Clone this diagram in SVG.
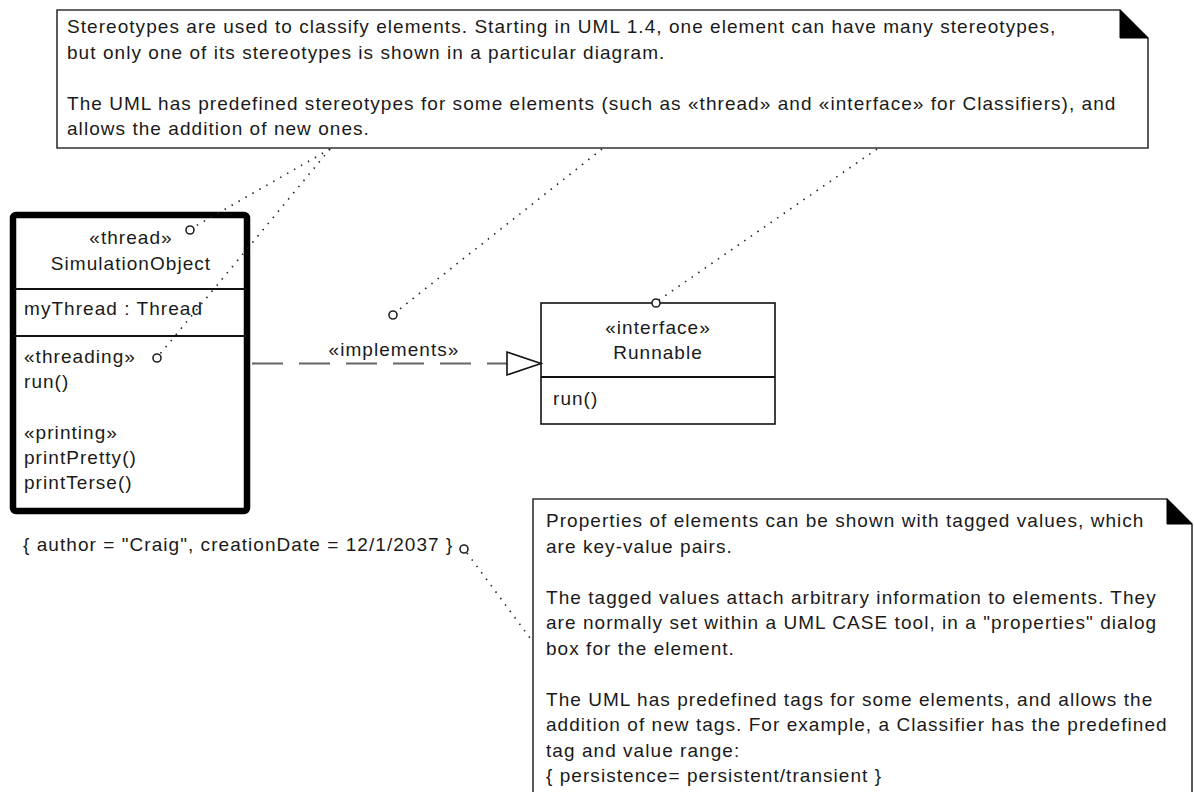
<svg xmlns="http://www.w3.org/2000/svg" width="1194" height="792" viewBox="0 0 1194 792">
<style>
  text { font-family: "Liberation Sans", Arial, sans-serif; font-size: 19px; letter-spacing: 1.05px; fill: #1a1a1a; }
  .c { text-anchor: middle; }
  .note { fill: #ffffff; stroke: #333333; stroke-width: 1.6; }
  .fold { fill: #000000; stroke: #000000; stroke-width: 1; }
  .box { fill: #ffffff; stroke: #111111; stroke-width: 1.6; }
  .thick { fill: #ffffff; stroke: #000000; stroke-width: 6.5; }
  .div { stroke: #111111; stroke-width: 1.8; }
  .dot { fill: none; stroke: #222222; stroke-width: 1.6; stroke-dasharray: 1.5 6.5; }
  .pin { fill: #ffffff; stroke: #222222; stroke-width: 1.6; }
  .dash { fill: none; stroke: #666666; stroke-width: 2.2; stroke-dasharray: 31 16; }
  .tri { fill: #ffffff; stroke: #111111; stroke-width: 1.6; }
</style>
<rect x="0" y="0" width="1194" height="792" fill="#ffffff"/>

<g id="note-stereotypes">
  <path class="note" d="M57,10 H1120 L1148,38 V148 H57 Z"/>
  <polygon class="fold" points="1120,10 1120,38 1148,38"/>
  <text x="67" y="33">Stereotypes are used to classify elements. Starting in UML 1.4, one element can have many stereotypes,</text>
  <text x="67" y="58.5">but only one of its stereotypes is shown in a particular diagram.</text>
  <text x="67" y="109.5">The UML has predefined stereotypes for some elements (such as «thread» and «interface» for Classifiers), and</text>
  <text x="67" y="135">allows the addition of new ones.</text>
</g>

<g id="class-simulationobject">
  <rect class="thick" x="13" y="215" width="234" height="296" rx="3"/>
  <line class="div" x1="14" y1="289" x2="246" y2="289"/>
  <line class="div" x1="14" y1="336" x2="246" y2="336"/>
  <text class="c" x="131" y="244">«thread»</text>
  <text class="c" x="131" y="270">SimulationObject</text>
  <text x="24" y="315">myThread : Thread</text>
  <text x="24" y="363">«threading»</text>
  <text x="24" y="388">run()</text>
  <text x="24" y="439">«printing»</text>
  <text x="24" y="464">printPretty()</text>
  <text x="24" y="489">printTerse()</text>
</g>

<g id="interface-runnable">
  <rect class="box" x="541" y="303" width="234" height="121"/>
  <line class="div" x1="541" y1="377" x2="775" y2="377"/>
  <text class="c" x="658" y="334">«interface»</text>
  <text class="c" x="658" y="359">Runnable</text>
  <text x="553" y="405">run()</text>
</g>

<g id="tagged-values">
  <text x="23" y="551">{ author = "Craig", creationDate = 12/1/2037 }</text>
</g>

<g id="note-tagged-values">
  <path class="note" d="M533,499 H1167 L1192,524 V800 H533 Z"/>
  <polygon class="fold" points="1167,499 1167,524 1192,524"/>
  <text x="546" y="527">Properties of elements can be shown with tagged values, which</text>
  <text x="546" y="552.5">are key-value pairs.</text>
  <text x="546" y="603.5">The tagged values attach arbitrary information to elements. They</text>
  <text x="546" y="629">are normally set within a UML CASE tool, in a "properties" dialog</text>
  <text x="546" y="654.5">box for the element.</text>
  <text x="546" y="705.5">The UML has predefined tags for some elements, and allows the</text>
  <text x="546" y="731">addition of new tags. For example, a Classifier has the predefined</text>
  <text x="546" y="756.5">tag and value range:</text>
  <text x="546" y="782">{ persistence= persistent/transient }</text>
</g>

<g id="connectors">
  <line class="dot" x1="330" y1="149" x2="194" y2="227"/>
  <line class="dot" x1="330" y1="149" x2="160" y2="354"/>
  <line class="dot" x1="602" y1="149" x2="396" y2="312"/>
  <line class="dot" x1="877" y1="149" x2="659" y2="300"/>
  <line class="dot" x1="467" y1="553" x2="533" y2="642"/>
  <line class="dash" x1="252" y1="363.5" x2="507" y2="363.5"/>
  <polygon class="tri" points="507,352 541,363.5 507,375"/>
  <text class="c" x="394" y="356">«implements»</text>
  <circle class="pin" cx="190" cy="230" r="4"/>
  <circle class="pin" cx="157" cy="358" r="4"/>
  <circle class="pin" cx="393" cy="315" r="4"/>
  <circle class="pin" cx="656" cy="303" r="4"/>
  <circle class="pin" cx="464" cy="549" r="4"/>
</g>
</svg>
